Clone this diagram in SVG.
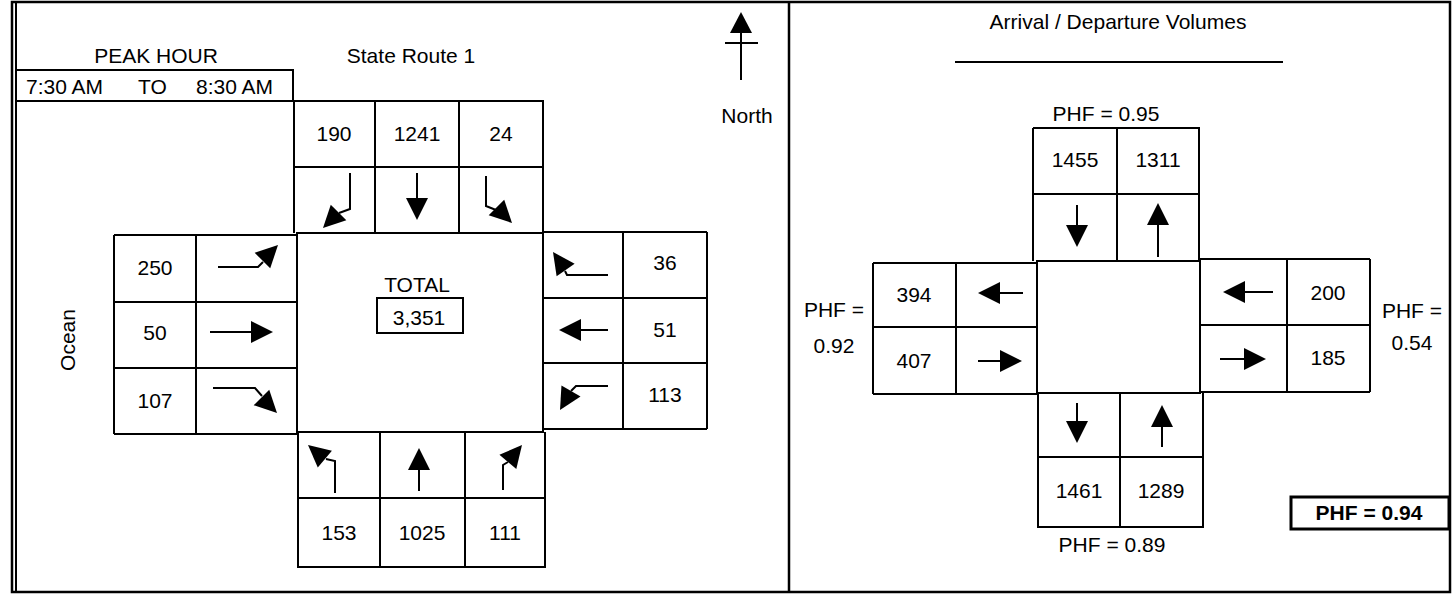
<svg xmlns="http://www.w3.org/2000/svg" xmlns:xlink="http://www.w3.org/1999/xlink" width="1453" height="602" viewBox="0 0 1453 602">
<style>
.ln{fill:none;stroke:#000;stroke-width:2}
.fr{fill:none;stroke:#000;stroke-width:2.5}
.ar{fill:none;stroke:#000;stroke-width:2}
.hd{fill:#000}
text{font-family:"Liberation Sans",Arial,sans-serif;font-size:21px;fill:#000}
.c{text-anchor:middle}
.b{font-weight:bold}
</style>
<defs>
<path id="ah" d="M0,0 L-22,-11 L-22,11 Z"/>
</defs>
<rect width="1453" height="602" fill="#fff"/>

<!-- frame -->
<g id="frame">
<path class="fr" d="M12,2 H1450 V592 H12 Z"/>
<path class="ln" d="M16,2 V592"/>
<path class="fr" d="M789,2 V592"/>
</g>

<!-- Left panel headings -->
<g id="peak-hour">
<text class="c" x="156" y="63">PEAK HOUR</text>
<path class="ln" d="M16,70 H293 V101 H16"/>
<text x="26" y="94">7:30 AM</text>
<text x="138" y="94">TO</text>
<text x="196" y="94">8:30 AM</text>
</g>
<g id="street-names">
<text class="c" x="411" y="63">State Route 1</text>
<text class="c" transform="translate(75,340) rotate(-90)">Ocean</text>
</g>
<g id="north-arrow">
<polygon class="hd" points="741,12 730,33 752,33"/>
<path class="ar" d="M741,33 V80 M725,43 H758"/>
<text class="c" x="747" y="123">North</text>
</g>

<!-- Left intersection -->
<g id="north-approach">
<path class="ln" d="M294,101 H543 V233 M294,101 V233 M375,101 V233 M459,101 V233 M294,167 H543"/>
<text class="c" x="334" y="141">190</text>
<text class="c" x="417" y="141">1241</text>
<text class="c" x="501" y="141">24</text>
<path class="ar" d="M350,173 V209 L339,213"/>
<use href="#ah" class="hd" transform="translate(323,228) rotate(135)"/>
<path class="ar" d="M417,173 V200"/>
<use href="#ah" class="hd" transform="translate(417,220) rotate(90)"/>
<path class="ar" d="M486,176 V206 L496,210"/>
<use href="#ah" class="hd" transform="translate(512,223) rotate(45)"/>
</g>
<g id="center-box">
<path class="ln" d="M297,233 H543 V432 H297 Z"/>
<text class="c" x="417" y="292">TOTAL</text>
<rect class="ln" x="377" y="298" width="86" height="35"/>
<text class="c" x="419" y="325">3,351</text>
</g>
<g id="west-approach">
<path class="ln" d="M114,235 H297 M114,302 H297 M114,368 H297 M114,434 H297 M114,235 V434 M196,235 V434"/>
<text class="c" x="155" y="275">250</text>
<text class="c" x="155" y="340">50</text>
<text class="c" x="155" y="408">107</text>
<path class="ar" d="M218,267 H258 L263,262"/>
<use href="#ah" class="hd" transform="translate(278,245) rotate(-45)"/>
<path class="ar" d="M210,332 H252"/>
<use href="#ah" class="hd" transform="translate(273,332)"/>
<path class="ar" d="M213,388 H255 L262,396"/>
<use href="#ah" class="hd" transform="translate(277,413) rotate(45)"/>
</g>
<g id="east-approach">
<path class="ln" d="M543,232 H707 M543,298 H707 M543,363 H707 M543,429 H707 M707,232 V429 M623,232 V429"/>
<text class="c" x="665" y="270">36</text>
<text class="c" x="665" y="337">51</text>
<text class="c" x="665" y="402">113</text>
<path class="ar" d="M608,275 H567 L565,271"/>
<use href="#ah" class="hd" transform="translate(553,252) rotate(-125)"/>
<path class="ar" d="M608,330 H580"/>
<use href="#ah" class="hd" transform="translate(559,330) rotate(180)"/>
<path class="ar" d="M608,386 H576 L571,391"/>
<use href="#ah" class="hd" transform="translate(560,410) rotate(120)"/>
</g>
<g id="south-approach">
<path class="ln" d="M298,432 V567 H545 V432 M380,432 V567 M465,432 V567 M298,498 H545"/>
<text class="c" x="339" y="540">153</text>
<text class="c" x="422" y="540">1025</text>
<text class="c" x="505" y="540">111</text>
<path class="ar" d="M335,493 V461 L326,459"/>
<use href="#ah" class="hd" transform="translate(308,445) rotate(-140)"/>
<path class="ar" d="M419,491 V468"/>
<use href="#ah" class="hd" transform="translate(419,448) rotate(-90)"/>
<path class="ar" d="M503,490 V465 L508,462"/>
<use href="#ah" class="hd" transform="translate(522,445) rotate(-50)"/>
</g>

<!-- Right panel -->
<g id="title-right">
<text class="c" x="1118" y="29">Arrival / Departure Volumes</text>
<path class="ln" d="M955,62 H1283"/>
</g>
<g id="r-north">
<text class="c" x="1106" y="121">PHF = 0.95</text>
<path class="ln" d="M1033,128 H1199 V261 M1033,128 V261 M1117,128 V261 M1033,194 H1199"/>
<text class="c" x="1075" y="167">1455</text>
<text class="c" x="1158" y="167">1311</text>
<path class="ar" d="M1077,205 V227"/>
<use href="#ah" class="hd" transform="translate(1077,247) rotate(90)"/>
<path class="ar" d="M1158,257 V224"/>
<use href="#ah" class="hd" transform="translate(1158,203) rotate(-90)"/>
</g>
<g id="r-center">
<path class="ln" d="M1037,261 H1200 V393 H1037 Z"/>
</g>
<g id="r-west">
<path class="ln" d="M873,263 H1037 M873,327 H1037 M873,394 H1037 M873,263 V394 M956,263 V394"/>
<text class="c" x="914" y="302">394</text>
<text class="c" x="914" y="368">407</text>
<path class="ar" d="M1023,293 H1000"/>
<use href="#ah" class="hd" transform="translate(978,293) rotate(180)"/>
<path class="ar" d="M978,361 H1002"/>
<use href="#ah" class="hd" transform="translate(1022,361)"/>
<text class="c" x="834" y="317">PHF =</text>
<text class="c" x="834" y="353">0.92</text>
</g>
<g id="r-east">
<path class="ln" d="M1200,259 H1370 M1200,325 H1370 M1200,392 H1370 M1370,259 V392 M1287,259 V392"/>
<text class="c" x="1328" y="300">200</text>
<text class="c" x="1328" y="365">185</text>
<path class="ar" d="M1273,292 H1244"/>
<use href="#ah" class="hd" transform="translate(1223,292) rotate(180)"/>
<path class="ar" d="M1220,359 H1246"/>
<use href="#ah" class="hd" transform="translate(1266,359)"/>
<text class="c" x="1412" y="318">PHF =</text>
<text class="c" x="1412" y="350">0.54</text>
</g>
<g id="r-south">
<path class="ln" d="M1038,393 V527 H1203 V393 M1120,393 V527 M1038,457 H1203"/>
<text class="c" x="1079" y="498">1461</text>
<text class="c" x="1161" y="498">1289</text>
<path class="ar" d="M1077,403 V423"/>
<use href="#ah" class="hd" transform="translate(1077,443) rotate(90)"/>
<path class="ar" d="M1162,447 V426"/>
<use href="#ah" class="hd" transform="translate(1162,405) rotate(-90)"/>
<text class="c" x="1112" y="552">PHF = 0.89</text>
</g>
<g id="phf-total">
<rect x="1291" y="497" width="158" height="32" fill="none" stroke="#000" stroke-width="3"/>
<text class="c b" x="1369" y="520" font-size="20">PHF = 0.94</text>
</g>
</svg>
